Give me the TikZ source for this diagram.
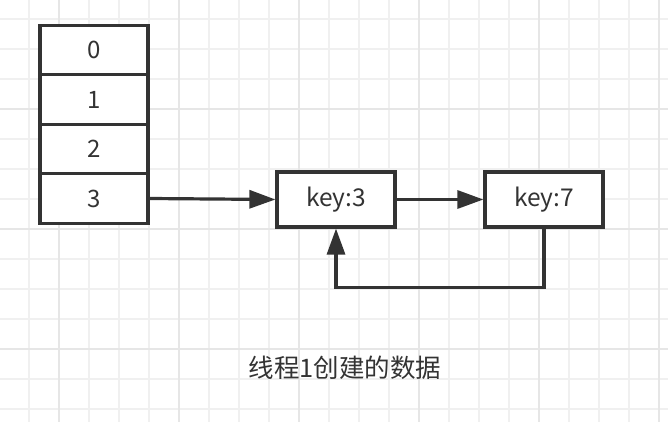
\documentclass[tikz,border=0pt]{standalone}
\usepackage{fontspec}
\setmainfont{Noto Sans CJK SC}
\usetikzlibrary{arrows.meta}
\definecolor{ink}{HTML}{333333}
\definecolor{gridminor}{HTML}{F0F0F0}
\definecolor{gridmajor}{HTML}{E6E6E6}
\tikzset{
  cell/.style={draw=ink, line width=3.2pt, fill=white, minimum width=108pt, minimum height=49.5pt, inner sep=0pt, text=ink, font=\fontsize{24}{27}\selectfont},
  keybox/.style={draw=ink, line width=3.2pt, fill=white, minimum width=118pt, minimum height=55pt, inner sep=0pt, text=ink, font=\fontsize{24.5}{27}\selectfont},
  link/.style={draw=ink, line width=3.2pt, -{Triangle[length=26pt,width=18pt]}},
  caption/.style={text=ink, font=\fontsize{25.5}{28}\selectfont, inner sep=0pt}
}
\begin{document}
\begin{tikzpicture}[x=1pt,y=-1pt]
\useasboundingbox (0,0) rectangle (668,422);
\fill[white] (0,0) rectangle (668,422);
% grid
\foreach \gx in {29,89,...,629} \draw[gridminor, line width=1.2pt] (\gx,0) -- (\gx,422);
\foreach \gy in {19,49,...,409} \draw[gridminor, line width=1.2pt] (0,\gy) -- (668,\gy);
\foreach \gx in {119,149,209,239,269,329,359,389,449,479,509,569,599,629} \draw[gridminor, line width=1.2pt] (\gx,0) -- (\gx,422);
\foreach \gx in {59,179,...,659} \draw[gridmajor, line width=1.5pt] (\gx,0) -- (\gx,422);
\foreach \gy in {109,229,349} \draw[gridmajor, line width=1.5pt] (0,\gy) -- (668,\gy);
% array
\node[cell] (c0) at (94,50) {0};
\node[cell] (c1) at (94,99.5) {1};
\node[cell] (c2) at (94,149) {2};
\node[cell] (c3) at (94,198.5) {3};
% list nodes
\node[keybox] (k3) at (336,199.5) {key:3};
\node[keybox] (k7) at (544,199.5) {key:7};
% connectors
\draw[link] (c3.east) -- (k3.west);
\draw[link] (k3.east) -- (k7.west);
\draw[link] (k7.south) -- ++(0,59) -| (k3.south);
% caption
\node[caption] (cap) at (345,368) {线程1创建的数据};
\end{tikzpicture}
\end{document}
